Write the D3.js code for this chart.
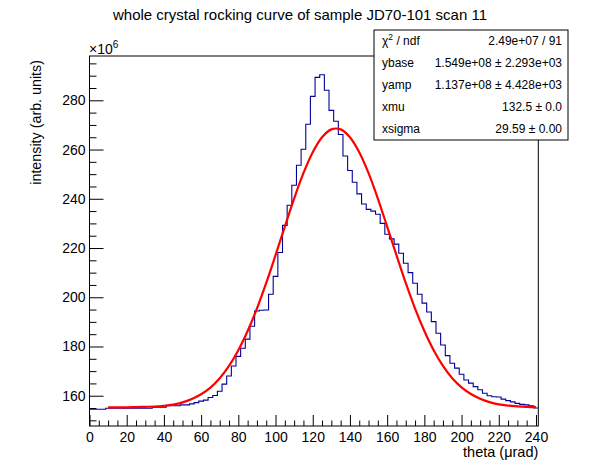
<!DOCTYPE html>
<html>
<head>
<meta charset="utf-8">
<script src="https://cdn.jsdelivr.net/npm/d3@7"></script>
<style>
  body { margin: 0; background: #fff; }
  text { font-family: "Liberation Sans", Arial, Helvetica, sans-serif; fill: #000; }
</style>
</head>
<body>
<div class="chart"></div>
<script>
// histogram: counts per 2.5 urad bin (x10^6), bin centres 0 .. 240
var binWidth = 2.5;
var binCenters = d3.range(0, 240.1, binWidth);
var counts = [
  154.5, 154.5, 154.5, 154.5, 154.9, 154.9, 154.9, 154.9, 154.9, 154.9,
  154.9, 154.9, 154.9, 154.9, 155.3, 155.3, 155.3, 155.9, 155.9, 155.9,
  156.3, 156.3, 156.7, 157.2, 157.8, 158.2, 159.3, 160.1, 161.8, 164.7,
  168.0, 172.1, 176.0, 179.3, 183.0, 188.2, 194.4, 194.7, 194.8, 201.2,
  208.5, 218.2, 229.2, 237.4, 245.5, 253.6, 260.1, 270.3, 281.6, 289.3,
  290.4, 284.1, 275.9, 271.5, 266.1, 257.4, 251.5, 246.7, 242.0, 237.9,
  235.7, 235.0, 233.7, 230.0, 225.6, 223.7, 221.6, 217.9, 213.8, 210.0,
  205.7, 201.2, 197.6, 194.0, 190.1, 185.4, 180.6, 176.3, 173.2, 171.2,
  168.7, 166.4, 165.1, 163.7, 162.4, 161.0, 160.0, 159.6, 159.5, 158.6,
  158.0, 157.5, 156.9, 156.5, 156.3, 155.9, 155.0
];

// fitted curve (x10^6)
var fitTheta = [10, 15, 20, 25, 30, 35, 40, 45, 50, 55, 60, 65, 70, 75, 80, 85,
  90, 95, 100, 105, 110, 115, 120, 125, 130, 135, 140, 145, 150, 155, 160, 165,
  170, 175, 180, 185, 190, 195, 200, 205, 210, 215, 220, 225, 230, 235, 240];
var fitValues = [155.3, 155.3, 155.3, 155.4, 155.5, 155.6, 155.9, 156.4, 157.3,
  158.7, 160.6, 163.3, 167.1, 172.1, 178.5, 186.3, 195.4, 205.8, 217.1, 228.7,
  240.1, 250.4, 258.9, 265.0, 268.2, 268.2, 265.0, 258.9, 250.4, 240.1, 228.7,
  217.1, 205.8, 195.4, 186.3, 178.5, 172.1, 167.1, 163.4, 160.7, 158.8, 157.4,
  156.5, 156.0, 155.7, 155.5, 155.4];

var xTicks = [0, 20, 40, 60, 80, 100, 120, 140, 160, 180, 200, 220, 240];
var yTicks = [160, 180, 200, 220, 240, 260, 280];

var statLabels = ["χ2 / ndf", "ybase", "yamp", "xmu", "xsigma"];
var statValues = ["2.49e+07 / 91", "1.549e+08 ± 2.293e+03", "1.137e+08 ± 4.428e+03",
  "132.5 ± 0.0", "29.59 ± 0.00"];

var svgWidth = 598;
var svgHeight = 474;

var margin = {
  top: 56,
  right: 59.7,
  bottom: 48,
  left: 89.5
};

var width = svgWidth - margin.left - margin.right;
var height = svgHeight - margin.top - margin.bottom;

var svg = d3
  .select(".chart")
  .append("svg")
  .attr("width", svgWidth)
  .attr("height", svgHeight);

svg.append("rect")
  .attr("width", svgWidth)
  .attr("height", svgHeight)
  .attr("fill", "#fff");

var chartGroup = svg.append("g")
  .attr("transform", `translate(${margin.left}, ${margin.top})`);

var xScale = d3.scaleLinear()
  .domain([0, 241.25])
  .range([0, width]);

var yScale = d3.scaleLinear()
  .domain([147.7, 298])
  .range([height, 0]);

chartGroup.append("clipPath")
  .attr("id", "plotclip")
  .append("rect")
  .attr("width", width)
  .attr("height", height);

// frame
chartGroup.append("rect")
  .attr("width", width)
  .attr("height", height)
  .attr("fill", "none")
  .attr("stroke", "#000")
  .attr("stroke-width", 1);

// minor ticks every 5
var xMinor = d3.range(0, 241.25, 5).filter(d => d % 20 !== 0);
var yMinor = d3.range(150, 298, 5).filter(d => d % 20 !== 0);

var xMinorAxis = chartGroup.append("g")
  .attr("transform", `translate(0, ${height})`)
  .call(d3.axisBottom(xScale).tickValues(xMinor).tickSize(-5.5).tickFormat(""));

var xAxis = chartGroup.append("g")
  .attr("transform", `translate(0, ${height})`)
  .call(d3.axisBottom(xScale).tickValues(xTicks).tickSize(-11).tickPadding(6.5).tickFormat(d3.format("d")));

var yMinorAxis = chartGroup.append("g")
  .call(d3.axisLeft(yScale).tickValues(yMinor).tickSize(-7).tickFormat(""));

var yAxis = chartGroup.append("g")
  .call(d3.axisLeft(yScale).tickValues(yTicks).tickSize(-14).tickPadding(4).tickFormat(d3.format("d")));

chartGroup.selectAll(".domain").remove();
chartGroup.selectAll(".tick line").attr("stroke", "#000");
chartGroup.selectAll(".tick text")
  .style("font-size", "14px")
  .style("font-family", "Liberation Sans, Arial, sans-serif");

// histogram outline (step)
var histPoints = binCenters.map((c, i) => [Math.max(0, c - binWidth / 2), counts[i]]);
histPoints.push([241.25, counts[counts.length - 1]]);

var stepLine = d3.line()
  .x(d => xScale(d[0]))
  .y(d => yScale(d[1]))
  .curve(d3.curveStepAfter);

chartGroup.append("path")
  .datum(histPoints)
  .attr("clip-path", "url(#plotclip)")
  .attr("d", stepLine)
  .attr("fill", "none")
  .attr("stroke", "#000099")
  .attr("stroke-width", 1.1);

// fit curve
var fitLine = d3.line()
  .x((d, i) => xScale(fitTheta[i]))
  .y(d => yScale(d))
  .curve(d3.curveCatmullRom);

chartGroup.append("path")
  .datum(fitValues)
  .attr("clip-path", "url(#plotclip)")
  .attr("d", fitLine)
  .attr("fill", "none")
  .attr("stroke", "#ff0000")
  .attr("stroke-width", 2.2);

// exponent label
svg.append("text")
  .attr("x", margin.left - 0.5)
  .attr("y", margin.top - 2.5)
  .style("font-size", "14px")
  .text("×10")
  .append("tspan")
  .attr("dy", -6)
  .style("font-size", "10px")
  .text("6");

// axis titles
svg.append("text")
  .attr("x", margin.left + width)
  .attr("y", 457)
  .attr("text-anchor", "end")
  .style("font-size", "14.5px")
  .text("theta (μrad)");

svg.append("text")
  .attr("transform", "translate(41, 60) rotate(-90)")
  .attr("text-anchor", "end")
  .style("font-size", "14.3px")
  .text("intensity (arb. units)");

// title
svg.append("text")
  .attr("x", 300)
  .attr("y", 20)
  .attr("text-anchor", "middle")
  .style("font-size", "15px")
  .text("whole crystal rocking curve of sample JD70-101 scan 11");

// stats box
var box = {x: 374, y: 30, w: 194, h: 110};
var rowH = box.h / statLabels.length;

var statsGroup = svg.append("g");
statsGroup.append("rect")
  .attr("x", box.x)
  .attr("y", box.y)
  .attr("width", box.w)
  .attr("height", box.h)
  .attr("fill", "#fff")
  .attr("stroke", "#000")
  .attr("stroke-width", 1);

statLabels.forEach(function (lab, i) {
  var yy = box.y + rowH * (i + 0.5) + 4.3;
  var t = statsGroup.append("text")
    .attr("x", box.x + 8)
    .attr("y", yy)
    .style("font-size", "12px");
  if (i === 0) {
    t.append("tspan").text("χ");
    t.append("tspan").attr("dy", -5).style("font-size", "8.5px").text("2");
    t.append("tspan").attr("dy", 5).text(" / ndf");
  } else {
    t.text(lab);
  }
  statsGroup.append("text")
    .attr("x", box.x + box.w - 6)
    .attr("y", yy)
    .attr("text-anchor", "end")
    .style("font-size", "12px")
    .text(statValues[i]);
});
</script>
</body>
</html>
